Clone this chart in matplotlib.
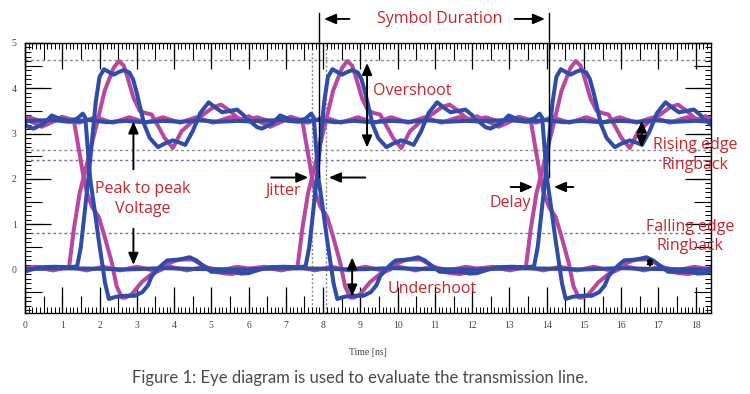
import matplotlib
matplotlib.use("Agg")
import matplotlib.pyplot as plt
from matplotlib.ticker import MultipleLocator, NullFormatter

# time of each eye crossing (ns); traces below are one symbol period,
# time counted from the crossing
crossings = [-4.43, 1.70, 7.83, 13.96, 20.09]

blue_rise_t = [-1.83, -1.6, -1.3, -0.9, -0.5, -0.3, -0.2, -0.1, 0.0, 0.1, 0.2, 0.3, 0.42, 0.55, 0.68, 0.82,
               0.95, 1.1, 1.2, 1.3, 1.4, 1.5, 1.65, 1.87, 2.05, 2.27, 2.45, 2.6, 2.8, 3.0, 3.23, 3.4, 3.59,
               3.8, 3.99, 4.15, 4.30]
blue_rise_v = [-0.08, -0.02, 0.05, 0.06, 0.05, 0.07, 0.5, 1.25, 2.0, 2.85, 3.7, 4.25, 4.42, 4.36, 4.3, 4.36,
               4.4, 4.35, 4.2, 3.9, 3.55, 3.2, 2.9, 2.7, 2.78, 2.85, 2.8, 2.75, 3.05, 3.45, 3.69, 3.58, 3.47,
               3.5, 3.53, 3.42, 3.3]

blue_fall_t = [-1.83, -1.6, -1.47, -1.2, -0.98, -0.75, -0.5, -0.3, -0.15, -0.08, 0.0, 0.05, 0.18, 0.27, 0.36,
               0.45, 0.55, 0.75, 1.0, 1.25, 1.45, 1.6, 1.7, 1.85, 2.0, 2.12, 2.45, 2.72, 2.9, 3.05, 3.3, 3.6,
               3.89, 4.1, 4.30]
blue_fall_v = [3.3, 3.14, 3.11, 3.22, 3.4, 3.32, 3.28, 3.33, 3.44, 3.35, 2.5, 2.0, 1.25, 0.7, 0.2,
               -0.3, -0.65, -0.6, -0.58, -0.58, -0.5, -0.35, -0.15, 0.0, 0.12, 0.2, 0.22, 0.27, 0.2, 0.1, -0.05, -0.05,
               -0.05, -0.09, -0.08]

mag_rise_t = [-1.83, -1.4, -1.0, -0.7, -0.52, -0.39, -0.23, -0.12, 0.05, 0.23, 0.44, 0.68, 0.82, 0.95, 1.03,
              1.22, 1.38, 1.55, 1.7, 1.85, 2.05, 2.27, 2.5, 2.77, 3.12, 3.35, 3.56, 3.8, 4.08, 4.30]
mag_rise_v = [-0.02, 0.03, 0.0, 0.03, 0.03, 0.88, 1.7, 2.05, 2.63, 3.22, 3.95, 4.45, 4.6, 4.5, 4.3,
              3.77, 3.5, 3.45, 3.42, 3.2, 2.9, 2.68, 3.05, 3.25, 3.44, 3.58, 3.64, 3.5, 3.29, 3.38]

mag_fall_t = [-1.83, -1.5, -1.25, -0.95, -0.71, -0.5, -0.39, -0.25, -0.12, -0.04, 0.1, 0.28, 0.44, 0.63, 0.76,
              0.9, 1.0, 1.16, 1.43, 1.7, 1.97, 2.2, 2.43, 2.8, 3.1, 3.4, 3.6, 3.85, 4.1, 4.30]
mag_fall_v = [3.38, 3.25, 3.15, 3.26, 3.37, 3.32, 3.3, 2.63, 2.0, 1.7, 1.38, 1.16, 0.72, 0.15, -0.37,
              -0.62, -0.62, -0.55, -0.28, -0.1, 0.0, 0.15, 0.22, 0.22, 0.08, -0.05, -0.08, -0.1, -0.05, -0.02]

blue_high_t = [-1.83, -1.0, -0.5, 0.0, 0.5, 1.0, 1.5, 2.0, 2.5, 3.0, 3.5, 4.0, 4.30]
blue_high_v = [3.27, 3.3, 3.26, 3.3, 3.25, 3.28, 3.25, 3.28, 3.26, 3.29, 3.26, 3.28, 3.27]

mag_high_t = [-1.83, -1.6, -1.15, -0.7, -0.25, 0.2, 0.65, 1.1, 1.55, 2.0, 2.45, 2.9, 3.35, 3.8, 4.30]
mag_high_v = [3.3, 3.36, 3.24, 3.36, 3.24, 3.36, 3.24, 3.36, 3.24, 3.36, 3.24, 3.36, 3.24, 3.36, 3.3]

blue_low_t = [-1.83, -1.0, 0.0, 1.0, 2.0, 3.0, 4.30]
blue_low_v = [0.0, 0.03, 0.02, 0.0, 0.03, 0.01, 0.0]

mag_low_t = [-1.83, -1.4, -0.95, -0.5, -0.05, 0.4, 0.85, 1.3, 1.75, 2.2, 2.65, 3.1, 3.55, 4.0, 4.30]
mag_low_v = [0.02, 0.06, -0.02, 0.06, -0.02, 0.06, -0.02, 0.06, -0.02, 0.06, -0.02, 0.06, -0.02, 0.06, 0.02]

dotted_gray = [4.63, 2.63]
dotted_blue = [2.41, 0.81]
jitter_x = [7.71, 8.08]

blue = "#2f4ca8"
magenta = "#b8489f"
red = "#c4262c"

fig = plt.figure(figsize=(7.5, 3.94), dpi=100)
ax = fig.add_axes([0.0333, 0.2056, 0.9147, 0.6854])

for y in dotted_gray:
    ax.axhline(y, color="#8a8a8a", lw=1, ls=(0, (2, 2)), zorder=1)
for y in dotted_blue:
    ax.axhline(y, color="#6a6fc4", lw=1, ls=(0, (2, 2)), zorder=1)
for x in jitter_x:
    ax.axvline(x, color="#8a8a8a", lw=1, ls=(0, (1.5, 1.5)), zorder=1)

for xc in crossings:
    for t, v, c in [(mag_high_t, mag_high_v, magenta), (mag_low_t, mag_low_v, magenta),
                    (mag_rise_t, mag_rise_v, magenta), (mag_fall_t, mag_fall_v, magenta),
                    (blue_high_t, blue_high_v, blue), (blue_low_t, blue_low_v, blue),
                    (blue_rise_t, blue_rise_v, blue), (blue_fall_t, blue_fall_v, blue)]:
        ax.plot([xc + s for s in t], v, color=c, lw=2.9, solid_joinstyle="round",
                solid_capstyle="round", zorder=2)

ax.set_xlim(0, 18.41)
ax.set_ylim(-0.96, 5.0)

ax.xaxis.set_major_locator(MultipleLocator(1))
ax.xaxis.set_minor_locator(MultipleLocator(0.1))
ax.yaxis.set_major_locator(MultipleLocator(1))
ax.yaxis.set_minor_locator(MultipleLocator(0.1))
ax.tick_params(which="major", direction="in", length=19, width=0.9, top=True, right=True,
               labelsize=7, labelcolor="#444444", pad=6)
ax.tick_params(which="minor", direction="in", length=4.5, width=0.7, top=True, right=True)
for lab in ax.get_xticklabels() + ax.get_yticklabels():
    lab.set_family("Liberation Serif")

# half-unit ticks
for side in ["bottom", "top"]:
    sec = ax.secondary_xaxis(side)
    sec.xaxis.set_major_locator(MultipleLocator(0.5))
    sec.xaxis.set_major_formatter(NullFormatter())
    sec.tick_params(direction="in", length=12, width=0.8)
    sec.spines[side].set_visible(False)
for side in ["left", "right"]:
    sec = ax.secondary_yaxis(side)
    sec.yaxis.set_major_locator(MultipleLocator(0.5))
    sec.yaxis.set_major_formatter(NullFormatter())
    sec.tick_params(direction="in", length=12, width=0.8)
    sec.spines[side].set_visible(False)

for s in ax.spines.values():
    s.set_linewidth(1)
ax.set_xlabel("Time [ns]", family="Liberation Serif", fontsize=7, color="#444444", labelpad=13)

# symbol duration markers
for x in [7.9, 14.06]:
    ax.plot([x, x], [5.65, 2.05], color="black", lw=1, clip_on=False, zorder=3)

head = dict(arrowstyle="-|>,head_length=0.7,head_width=0.3", color="black", lw=1.4)
both = dict(arrowstyle="<|-|>,head_length=0.7,head_width=0.3", color="black", lw=1.4)
tfont = dict(family="Open Sans", color=red, fontsize=11.5, ha="center", va="center")

def arrow(tail, tip, props=head):
    ax.annotate("", xy=tip, xytext=tail, arrowprops=props, annotation_clip=False)

ax.text(11.14, 5.53, "Symbol Duration", clip_on=False, **tfont)
arrow((8.78, 5.53), (7.95, 5.53))
arrow((13.07, 5.53), (14.03, 5.53))

ax.text(10.39, 3.95, "Overshoot", **tfont)
arrow((9.18, 2.63), (9.18, 4.62), both)

ax.text(3.15, 1.56, "Peak to peak\nVoltage", linespacing=1.3, **tfont)
arrow((2.91, 2.15), (2.91, 3.33))
arrow((2.91, 0.96), (2.91, 0.04))

ax.text(6.93, 1.73, "Jitter", **tfont)
arrow((6.53, 2.03), (7.68, 2.03))
arrow((9.21, 2.03), (8.08, 2.03))

ax.text(13.02, 1.47, "Delay", **tfont)
arrow((12.96, 1.82), (13.71, 1.82))
arrow((14.79, 1.82), (14.12, 1.82))

ax.text(17.98, 2.53, "Rising edge\nRingback", linespacing=1.3, clip_on=False, **tfont)
arrow((16.55, 2.63), (16.55, 3.35), both)

ax.text(17.84, 0.73, "Falling edge\nRingback", linespacing=1.3, clip_on=False, **tfont)
ax.annotate("", xy=(16.77, 0.33), xytext=(16.77, -0.02),
            arrowprops=dict(arrowstyle="<|-|>,head_length=0.4,head_width=0.18", color="black", lw=1))

ax.text(10.93, -0.44, "Undershoot", **tfont)
arrow((8.78, -0.66), (8.78, 0.33), both)

fig.text(0.48, 0.04, "Figure 1: Eye diagram is used to evaluate the transmission line.",
         family="Lato", fontsize=12, color="#4a4a4a", ha="center", va="center")

fig.savefig("out.png", dpi=100)
